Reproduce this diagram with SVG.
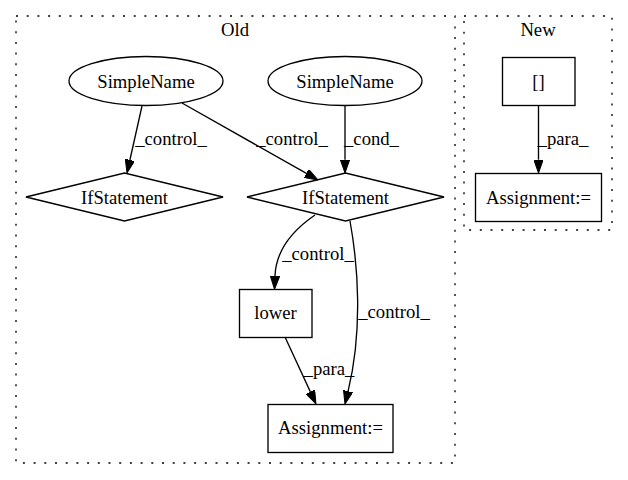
<svg xmlns="http://www.w3.org/2000/svg" width="628" height="480" viewBox="0 0 628 480">
<style>
text{font-size:18.67px;fill:#000;text-anchor:middle}
.cl{fill:none;stroke:#000;stroke-width:1.33;stroke-dasharray:2,8.7}
.n{fill:none;stroke:#000;stroke-width:1.33}
.e{fill:none;stroke:#000;stroke-width:1.33;marker-end:url(#ah)}
</style>
<defs>
<marker id="ah" markerUnits="userSpaceOnUse" viewBox="0 0 13.3 9.4" refX="0" refY="4.7" markerWidth="13.3" markerHeight="9.4" orient="auto">
<path d="M0,0 L13.3,4.7 L0,9.4 z" fill="#000" stroke="#000" stroke-width="1"/>
</marker>
</defs>
<rect fill="#fff" width="628" height="480"/>
<g font-family="Liberation Serif">
<g id="cluster_old">
<rect class="cl" x="16" y="16" width="439" height="447"/>
<text x="235" y="36">Old</text>
</g>
<g id="cluster_new">
<rect class="cl" x="464" y="16" width="148" height="214"/>
<text x="538" y="36">New</text>
</g>
<g id="sn1"><ellipse class="n" cx="146" cy="81" rx="77" ry="24.5"/><text x="146" y="87.5">SimpleName</text></g>
<g id="sn2"><ellipse class="n" cx="345" cy="81" rx="77" ry="24.5"/><text x="345" y="87.5">SimpleName</text></g>
<g id="if1"><polygon class="n" points="26,197 124.5,173 223,197 124.5,221"/><text x="124.5" y="203.5">IfStatement</text></g>
<g id="if2"><polygon class="n" points="247,197 345.5,173 444,197 345.5,221"/><text x="345.5" y="203.5">IfStatement</text></g>
<g id="lower"><rect class="n" x="239.5" y="289.5" width="72.5" height="48"/><text x="275.5" y="319">lower</text></g>
<g id="assign_old"><rect class="n" x="268" y="404.5" width="125" height="48"/><text x="330.5" y="434">Assignment:=</text></g>
<g id="idx"><rect class="n" x="502.5" y="57.5" width="72.5" height="48"/><text x="538.5" y="87.5">[]</text></g>
<g id="assign_new"><rect class="n" x="475.5" y="173.5" width="126" height="48"/><text x="538.5" y="203.5">Assignment:=</text></g>
<g id="edges">
<path class="e" d="M142,106 L129.9,160"/>
<text x="171" y="145">_control_</text>
<path class="e" d="M182,103 L306.4,173.4"/>
<text x="292" y="145">_control_</text>
<path class="e" d="M345,106 L345,159.7"/>
<text x="371.5" y="145">_cond_</text>
<path class="e" d="M315,215 C296,228 276,248 275,276"/>
<text x="318" y="260">_control_</text>
<path class="e" d="M350,221 C358,265 363,330 348.1,391.2"/>
<text x="394" y="318">_control_</text>
<path class="e" d="M285,337 L310.4,391.9"/>
<text x="329" y="375">_para_</text>
<path class="e" d="M538.5,106 L538.5,159.7"/>
<text x="563" y="145">_para_</text>
</g>
</g>
</svg>
